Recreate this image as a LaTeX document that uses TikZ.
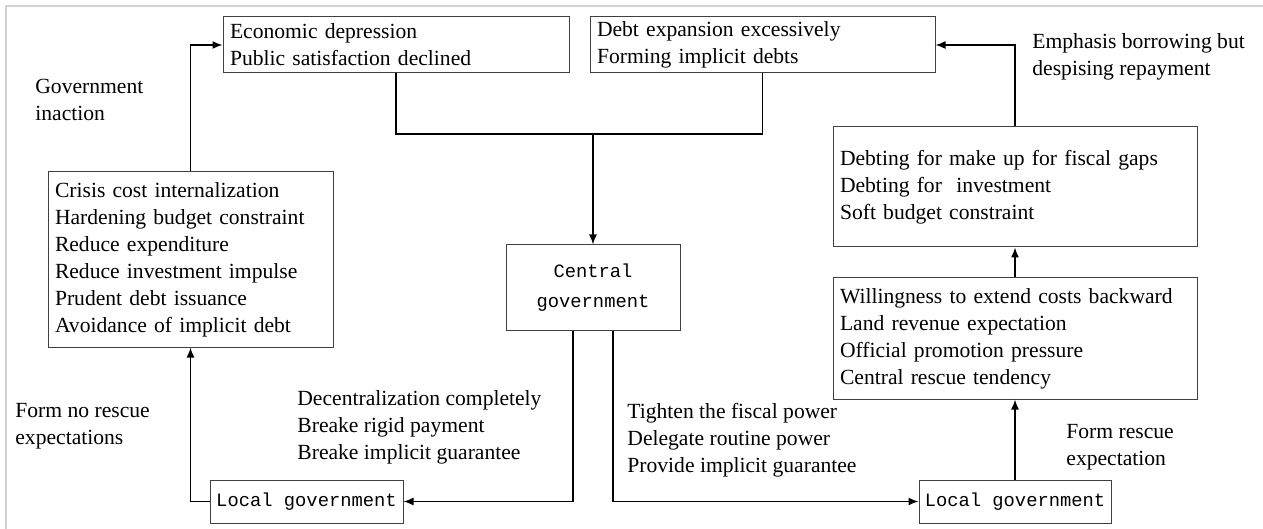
\documentclass[tikz,border=0pt]{standalone}
\usepackage{fontspec}
\setmainfont{Liberation Serif}
\setmonofont{Liberation Mono}
\usetikzlibrary{arrows.meta}

\begin{document}
\begin{tikzpicture}[x=0.5pt,y=-0.5pt,
    txtbox/.style={draw=black!75, line width=0.5pt, align=left, inner xsep=3.5pt, inner ysep=0pt, font=\fontsize{10.8}{13.5}\selectfont},
    monobox/.style={draw=black!75, line width=0.5pt, align=center, inner sep=0pt, font=\ttfamily\fontsize{9.4}{15}\selectfont},
    lbl/.style={anchor=west, align=left, inner sep=0pt, font=\fontsize{10.8}{13.5}\selectfont},
    link/.style={line width=0.75pt, -{Latex[length=5pt,width=4pt]}}]
            \useasboundingbox (0,0) rectangle (1263,529);
            \draw[gray!35, line width=0.9pt] (6,529) -- (6,6) -- (1263,6);
            % top row
            \node[txtbox, text width=166pt, minimum height=28pt] (econ) at (396,45) {Economic depression\\Public satisfaction declined};
            \node[txtbox, text width=165.5pt, minimum height=28pt] (debt) at (762.5,45) {Debt expansion excessively\\Forming implicit debts};
            % left side
            \node[txtbox, text width=135.5pt, minimum height=87.5pt] (crisis) at (190.5,259.5) {Crisis cost internalization\\Hardening budget constraint\\Reduce expenditure\\Reduce investment impulse\\Prudent debt issuance\\Avoidance of implicit debt};
            \node[monobox, minimum width=96.5pt, minimum height=21.5pt] (localL) at (306.5,501.5) {Local government};
            % middle
            \node[monobox, minimum width=87pt, minimum height=42.5pt] (central) at (593,287.5) {Central\\government};
            % right side
            \node[txtbox, text width=175pt, minimum height=60pt] (debting) at (1015,187) {Debting for make up for fiscal gaps\\Debting for\ \ investment\\Soft budget constraint};
            \node[txtbox, text width=175pt, minimum height=60.5pt] (will) at (1015,338.5) {Willingness to extend costs backward\\Land revenue expectation\\Official promotion pressure\\Central rescue tendency};
            \node[monobox, minimum width=96pt, minimum height=21.5pt] (localR) at (1015,501.5) {Local government};
            % labels
            \node[lbl] (inaction) at (35,100) {Government\\inaction};
            \node[lbl] (norescue) at (15,426) {Form no rescue\\expectations};
            \node[lbl] (decent) at (297,427) {Decentralization completely\\Breake rigid payment\\Breake implicit guarantee};
            \node[lbl] (tighten) at (627,440) {Tighten the fiscal power\\Delegate routine power\\Provide implicit guarantee};
            \node[lbl] (rescue) at (1066,447) {Form rescue\\expectation};
            \node[lbl] (emphasis) at (1032,57) {Emphasis borrowing but\\despising repayment};
            % connectors
            \coordinate (join) at (593,134);
            \draw[line width=0.75pt] (econ.south) |- (join) -| (debt.south);
            \draw[link] (join) -- (central.north);
            \draw[link] (crisis.north) |- (econ.west);
            \draw[link] (localL.west) -| (crisis.south);
            \draw[link] ([xshift=-10pt]central.south) |- (localL.east);
            \draw[link] ([xshift=10pt]central.south) |- (localR.west);
            \draw[link] (localR.north) -- (will.south);
            \draw[link] (will.north) -- (debting.south);
            \draw[link] (debting.north) |- (debt.east);
        \end{tikzpicture}
\end{document}
